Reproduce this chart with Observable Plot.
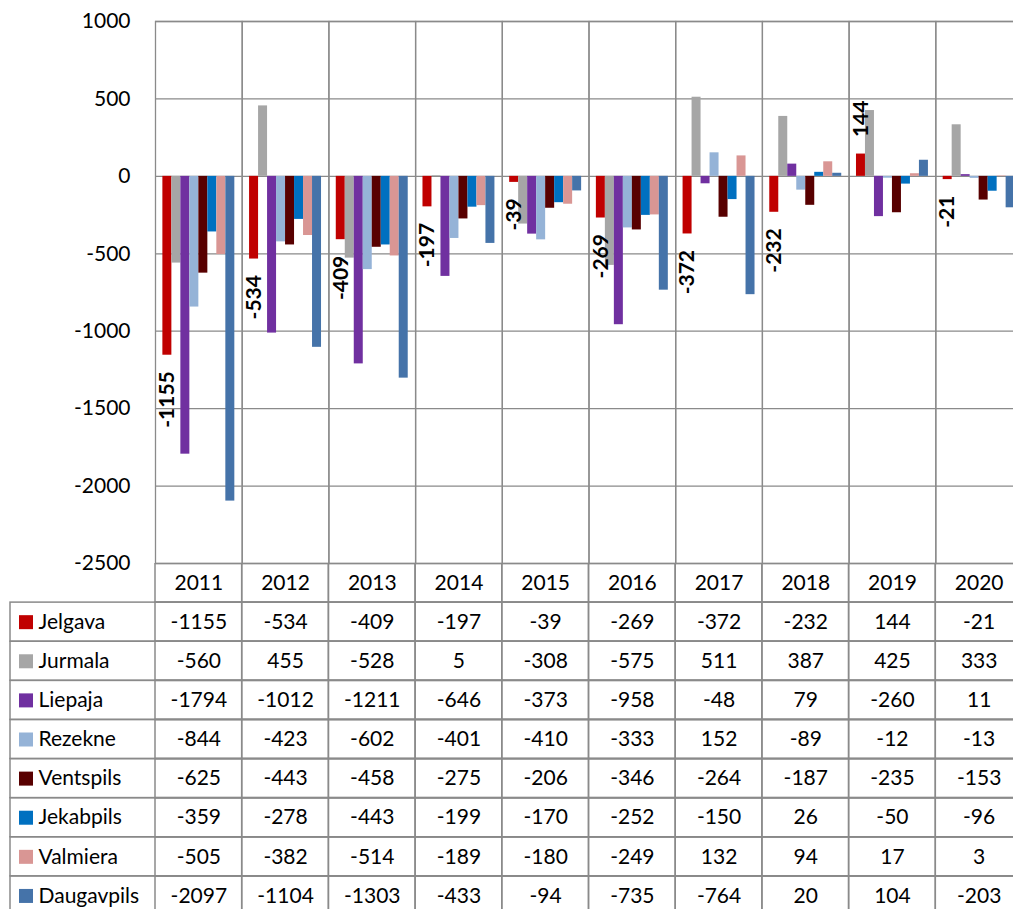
<!DOCTYPE html>
<html><head><meta charset="utf-8">
<script src="https://cdn.jsdelivr.net/npm/d3@7"></script>
<script src="https://cdn.jsdelivr.net/npm/@observablehq/plot@0.6"></script>
<style>
html,body{margin:0;padding:0;background:#fff;overflow:hidden;}
#wrap{width:1023px;}
#wrap svg{display:block;}
#chart{position:relative;z-index:2;height:564px;}
#chart svg{overflow:visible;}
#table{position:relative;z-index:1;margin-top:-1px;}
</style></head>
<body><div id="wrap"><div id="chart"></div><div id="table"></div></div>
<script>
const years = ["2011","2012","2013","2014","2015","2016","2017","2018","2019","2020"];
const cities = ["Jelgava","Jurmala","Liepaja","Rezekne","Ventspils","Jekabpils","Valmiera","Daugavpils"];
const colors = ["#C00000","#A6A6A6","#7030A0","#95B3D7","#580000","#0070C0","#D99694","#4573A9"];
const yTicks = [-2500,-2000,-1500,-1000,-500,0,500,1000];

const jelgava    = [-1155,-534,-409,-197,-39,-269,-372,-232,144,-21];
const jurmala    = [-560,455,-528,5,-308,-575,511,387,425,333];
const liepaja    = [-1794,-1012,-1211,-646,-373,-958,-48,79,-260,11];
const rezekne    = [-844,-423,-602,-401,-410,-333,152,-89,-12,-13];
const ventspils  = [-625,-443,-458,-275,-206,-346,-264,-187,-235,-153];
const jekabpils  = [-359,-278,-443,-199,-170,-252,-150,26,-50,-96];
const valmiera   = [-505,-382,-514,-189,-180,-249,132,94,17,3];
const daugavpils = [-2097,-1104,-1303,-433,-94,-735,-764,20,104,-203];

const series = [jelgava,jurmala,liepaja,rezekne,ventspils,jekabpils,valmiera,daugavpils];
const rows = [];
cities.forEach((c,i)=>years.forEach((y,j)=>rows.push({city:c, year:y, value:series[i][j]})));

const grid = "#8a8a8a";
const font = {fontFamily:"Lato, 'Open Sans', sans-serif", fontSize:"21px", color:"#000"};

const chart = Plot.plot({
  width: 1023, height: 564,
  marginTop: 21, marginBottom: 1, marginLeft: 155, marginRight: 1,
  style: {...font, background: "transparent"},
  fx: {domain: years, padding: 0, round: false, axis: null},
  x: {domain: cities, paddingInner: 0, paddingOuter: 0.82, round: false, axis: null},
  y: {domain: [-2500, 1000], axis: null},
  color: {domain: cities, range: colors},
  marks: [
    Plot.gridY(yTicks, {stroke: grid, strokeOpacity: 1, strokeWidth: 1.3}),
    Plot.frame({stroke: grid, strokeWidth: 1.3}),
    Plot.barY(rows, {fx: "year", x: "city", y: "value", fill: "city"}),
    Plot.text(rows.filter(d => d.city === "Jelgava" && d.value < 0), {
      fx: "year", x: "city", y: "value", text: d => String(d.value),
      rotate: -90, textAnchor: "end", lineAnchor: "middle", dy: 16, fontWeight: "bold", fill: "#000"
    }),
    Plot.text(rows.filter(d => d.city === "Jelgava" && d.value >= 0), {
      fx: "year", x: "city", y: "value", text: d => String(d.value),
      rotate: -90, textAnchor: "start", lineAnchor: "middle", dy: -17, fontWeight: "bold", fill: "#000"
    }),
    Plot.axisY(yTicks, {label: null, tickSize: 0, tickPadding: 25, tickFormat: d => String(d), fontSize: 21})
  ]
});
document.getElementById("chart").append(chart);

const headerKey = "header";
const table = Plot.plot({
  width: 1023, height: 352,
  marginTop: 0, marginBottom: 0, marginLeft: 10, marginRight: 1,
  style: {...font, background: "#fff"},
  x: {domain: years, range: [155, 1022], padding: 0, round: false, axis: null},
  y: {domain: [headerKey, ...cities], padding: 0, round: false, axis: null},
  color: {domain: cities, range: colors},
  marks: [
    Plot.cell(cities, {y: d => d, stroke: grid, fill: "none", strokeWidth: 1.5}),
    Plot.cell([headerKey, ...cities].flatMap(r => years.map(y => ({row: r, year: y}))),
      {x: "year", y: "row", stroke: grid, fill: "none", strokeWidth: 1.5}),
    Plot.text(years, {x: d => d, y: () => headerKey, text: d => d, fill: "#000"}),
    Plot.text(rows, {x: "year", y: "city", text: d => String(d.value), fill: "#000"}),
    Plot.dot(cities, {y: d => d, frameAnchor: "left", dx: 15.5, symbol: "square", r: 7.9, fill: d => d}),
    Plot.text(cities, {y: d => d, frameAnchor: "left", dx: 28, textAnchor: "start", text: d => d, fill: "#000"})
  ]
});
document.getElementById("table").append(table);
</script>
</body></html>
